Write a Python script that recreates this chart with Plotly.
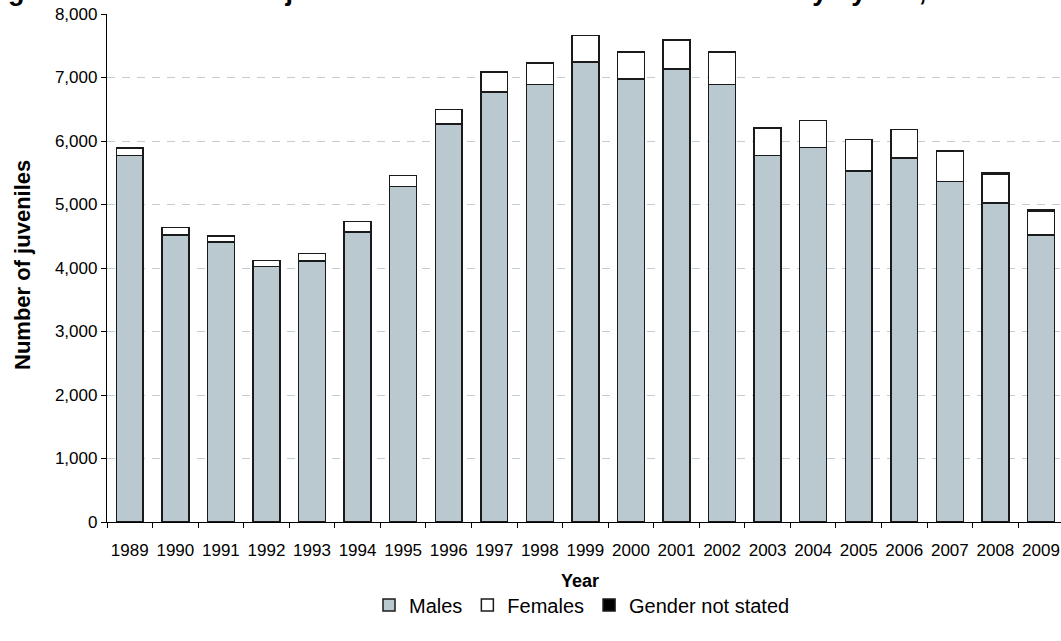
import plotly.graph_objects as go

# values
years = [str(y) for y in range(1989, 2010)]
males = [5770, 4520, 4410, 4020, 4110, 4565, 5280, 6270, 6775, 6890, 7245,
         6975, 7135, 6890, 5775, 5895, 5525, 5730, 5365, 5025, 4520]
females = [120, 115, 95, 95, 115, 165, 175, 230, 315, 340, 420,
           430, 455, 515, 430, 425, 500, 450, 480, 450, 380]
not_stated = [0, 0, 0, 0, 0, 0, 0, 0, 0, 0, 0,
              0, 0, 0, 0, 0, 0, 0, 0, 25, 25]
y_ticks = [0, 1000, 2000, 3000, 4000, 5000, 6000, 7000, 8000]

FONT = "Liberation Sans, Arial, sans-serif"
W, H = 1061, 641
L, T, R, B = 107, 14, 0, 119
PW, PH = W - L - R, H - T - B


def px_x(p):
    return (p - L) / PW


def px_y(p):
    return (H - B - p) / PH


line = dict(color="#1a1a1a", width=1.5)

fig = go.Figure()
fig.add_trace(go.Bar(x=years, y=males, name="Males",
                     marker=dict(color="#b9c9cf", line=line)))
fig.add_trace(go.Bar(x=years, y=females, name="Females",
                     marker=dict(color="#ffffff", line=line)))
fig.add_trace(go.Bar(x=years, y=not_stated, name="Gender not stated",
                     marker=dict(color="#000000", line=line)))

fig.update_layout(
    width=W, height=H,
    margin=dict(l=L, r=R, t=T, b=B, pad=0, autoexpand=False),
    barmode="stack",
    bargap=0.41,
    plot_bgcolor="white",
    paper_bgcolor="white",
    font=dict(family=FONT, color="#000000", size=17),
    showlegend=True,
    legend=dict(orientation="h", x=px_x(582), xanchor="center",
                y=px_y(605), yanchor="middle",
                font=dict(size=20), traceorder="normal",
                itemwidth=30, tracegroupgap=0),
)

fig.update_xaxes(
    type="category",
    range=[-0.5, 20.44],
    automargin=False,
    showline=True, linecolor="#000000", linewidth=1.3,
    ticks="outside", tickson="boundaries", ticklen=5,
    tickcolor="#000000", tickwidth=1,
    tickangle=0,
    tickfont=dict(size=17),
    ticklabelstandoff=12,
    showgrid=False,
)
fig.update_yaxes(
    range=[0, 8000],
    automargin=False,
    tickvals=y_ticks,
    tickformat=",d",
    showline=True, linecolor="#000000", linewidth=1.3,
    ticks="outside", ticklen=5, tickcolor="#000000", tickwidth=1,
    tickfont=dict(size=17),
    showgrid=True, gridcolor="#c3ced4", gridwidth=1, griddash="8px,7px",
    zeroline=False,
)

# titles
fig.add_annotation(
    text="<b>Figure 3.10: Number of juveniles sentenced to immediate custody by sex, 1989\u20132009</b>",
    xref="paper", yref="paper", x=px_x(-18), y=px_y(8),
    xanchor="left", yanchor="bottom", showarrow=False,
    font=dict(size=27, family=FONT),
)
fig.add_annotation(
    text="<b>Year</b>", xref="paper", yref="paper",
    x=px_x(580), y=px_y(581), xanchor="center", yanchor="middle",
    showarrow=False, font=dict(size=18, family=FONT),
)
fig.add_annotation(
    text="<b>Number of juveniles</b>", xref="paper", yref="paper",
    x=px_x(22), y=px_y(265), xanchor="center", yanchor="middle",
    textangle=-90, showarrow=False, font=dict(size=22, family=FONT),
)

# drop the page's default body margin so the figure sits at the window corner
fig.write_html("out.html", config={"displayModeBar": False},
               post_script="document.body.style.margin='0';")
